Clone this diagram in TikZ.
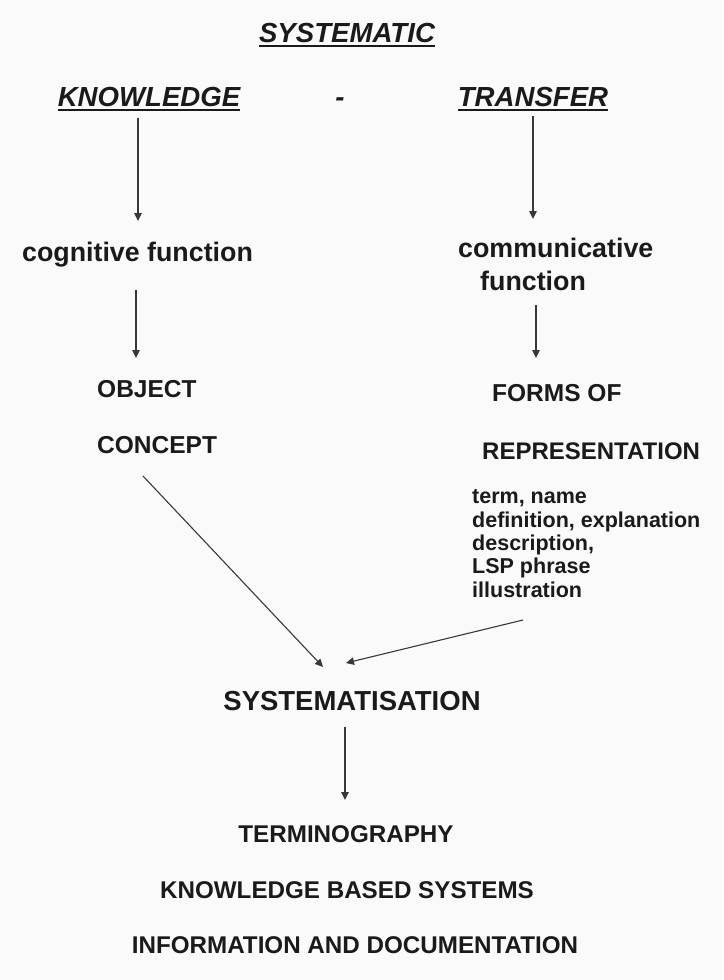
\documentclass[tikz,border=0pt]{standalone}
\usepackage{fontspec}
\setmainfont{Liberation Sans}
\usetikzlibrary{calc,arrows.meta}
\definecolor{ink}{HTML}{1A1A1A}
\definecolor{linecol}{HTML}{383838}
\definecolor{paper}{HTML}{FAFAFA}
\begin{document}
\begin{tikzpicture}[x=1pt,y=-1pt,
  txt/.style={inner sep=0pt, anchor=base, text=ink},
  heading/.style={txt, font=\bfseries\itshape\fontsize{27.6}{33}\selectfont},
  func/.style={txt, font=\bfseries\fontsize{26.8}{32}\selectfont},
  caps/.style={txt, anchor=base west, font=\bfseries\fontsize{24.5}{29}\selectfont},
  item/.style={txt, anchor=base west, font=\bfseries\fontsize{21.5}{24}\selectfont},
  big/.style={txt, font=\bfseries\fontsize{27.5}{33}\selectfont},
  result/.style={txt, font=\bfseries\fontsize{24.2}{29}\selectfont},
  uline/.style={draw=ink, line width=2.8pt},
  arr/.style={draw=linecol, line width=1.1pt, -{Triangle[length=8pt,width=7.5pt]}}]
\useasboundingbox[fill=paper] (0,0) rectangle (723,980);

% title row
\node[heading] (systematic) at (347,42) {SYSTEMATIC};
\node[heading] (knowledge) at (149,106) {KNOWLEDGE};
\node[heading] (dash) at (340,106) {-};
\node[heading] (transfer) at (533,106) {TRANSFER};
\foreach \n in {systematic,knowledge,transfer}
  \draw[uline] ($(\n.base west)+(0,4)$) -- ($(\n.base east)+(0,4)$);

% functions
\node[func] (cogf) at (137.5,261) {cognitive function};
\node[func, anchor=base west] (comm) at (458,257) {communicative};
\node[func, anchor=base west] (commf) at (480,290) {function};

% objects and forms of representation
\node[caps] (object) at (97,397) {OBJECT};
\node[caps] (concept) at (97,453) {CONCEPT};
\node[caps] (forms) at (492,401) {FORMS OF};
\node[caps, font=\bfseries\fontsize{24}{29}\selectfont] (repr) at (482,459) {REPRESENTATION};

\node[item] (l1) at (472,503) {term, name};
\node[item] (l2) at (472,527) {definition, explanation};
\node[item] (l3) at (472,550) {description,};
\node[item] (l4) at (472,573) {LSP phrase};
\node[item] (l5) at (472,597) {illustration};

% systematisation and applications
\node[big] (sys) at (352,710) {SYSTEMATISATION};
\node[result] (term) at (346,842) {TERMINOGRAPHY};
\node[result] (kbs) at (347,898) {KNOWLEDGE BASED SYSTEMS};
\node[result] (info) at (355,953) {INFORMATION AND DOCUMENTATION};

% connectors
\draw[arr] ($(knowledge.base)+(-11,12)$) -- ($(cogf.base)+(0.5,-40)$);
\draw[arr] ($(transfer.base)+(0,10)$) -- ($(comm.base west)+(75,-38)$);
\draw[arr] ($(cogf.base)+(-1.5,29)$) -- ($(object.base west)+(39,-39)$);
\draw[arr] ($(commf.base west)+(56,15)$) -- ($(forms.base west)+(44,-43)$);
\draw[arr] ($(concept.base west)+(46,23)$) -- ($(sys.base)+(-29,-43)$);
\draw[arr] ($(l5.base west)+(51,23)$) -- ($(sys.base)+(-6,-47)$);
\draw[arr] ($(sys.base)+(-7,17)$) -- ($(term.base)+(-1,-42)$);
\end{tikzpicture}
\end{document}
